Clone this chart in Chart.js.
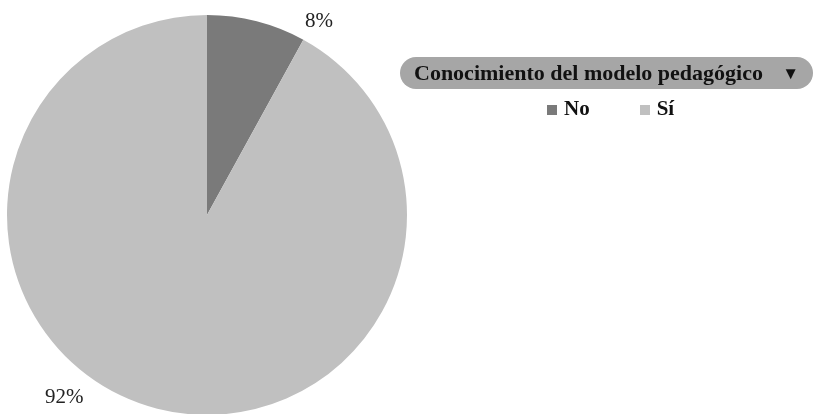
<!DOCTYPE html>
<html>
<head>
<meta charset="utf-8">
<script src="https://cdn.jsdelivr.net/npm/chart.js@4"></script>
<style>
    html, body { margin: 0; padding: 0; background: #fff; overflow: hidden; }
    #wrap { position: relative; width: 814px; height: 415px; }
    #grafik { position: absolute; left: 0; top: 0; }
    .judul {
        position: absolute; left: 400px; top: 57px; width: 413px; height: 32px;
        background: #a6a6a6; border-radius: 16px;
        font: bold 22px "Liberation Serif", serif; color: #111;
        line-height: 32px; box-sizing: border-box; padding-left: 14px;
    }
    .judul span { position: absolute; right: 14px; top: 1px; font-size: 17px; }
    .legenda {
        position: absolute; top: 96px; left: 547px;
        font: bold 21px "Liberation Serif", serif; color: #111;
    }
    .legenda i { display: inline-block; width: 10px; height: 10px; margin-right: 7px; }
    .legenda b { margin-right: 50px; }
</style>
</head>
<body>
<div id="wrap">
    <canvas id="grafik" width="814" height="415"></canvas>
    <div class="judul">Conocimiento del modelo pedagógico<span>▼</span></div>
    <div class="legenda" id="legenda"></div>
</div>

<script>
// data chart
const kategori = ["No", "Sí"];
const nilai = [8, 92];
const warna = ["#7a7a7a", "#c0c0c0"];

// posisi label (derajat dari atas, faktor radius)
const sudutLabel = [30, 218];
const jarakLabel = [1.12, 1.16];

// legenda html
const legenda = document.getElementById("legenda");
kategori.forEach((k, i) => {
    legenda.insertAdjacentHTML("beforeend",
        `<i style="background:${warna[i]}"></i><b>${k}</b>`);
});

// plugin label persen
const labelPersen = {
    id: "labelPersen",
    afterDatasetsDraw(chart) {
        const ctx = chart.ctx;
        const meta = chart.getDatasetMeta(0);
        const total = nilai.reduce((a, b) => a + b, 0);
        ctx.save();
        ctx.font = "21px 'Liberation Serif', serif";
        ctx.fillStyle = "#222";
        ctx.textAlign = "center";
        ctx.textBaseline = "middle";
        meta.data.forEach((arc, i) => {
            const a = sudutLabel[i] * Math.PI / 180;
            const r = arc.outerRadius * jarakLabel[i];
            const x = arc.x + Math.sin(a) * r;
            const y = arc.y - Math.cos(a) * r;
            ctx.fillText(Math.round(nilai[i] / total * 100) + "%", x, y);
        });
        ctx.restore();
    }
};

new Chart(document.getElementById("grafik"), {
    type: "pie",
    data: {
        labels: kategori,
        datasets: [{
            data: nilai,
            backgroundColor: warna,
            borderWidth: 0
        }]
    },
    options: {
        responsive: false,
        animation: false,
        layout: { padding: { left: 7, top: 15, right: 407, bottom: 0 } },
        plugins: {
            legend: { display: false },
            tooltip: { enabled: false }
        }
    },
    plugins: [labelPersen]
});
</script>
</body>
</html>
